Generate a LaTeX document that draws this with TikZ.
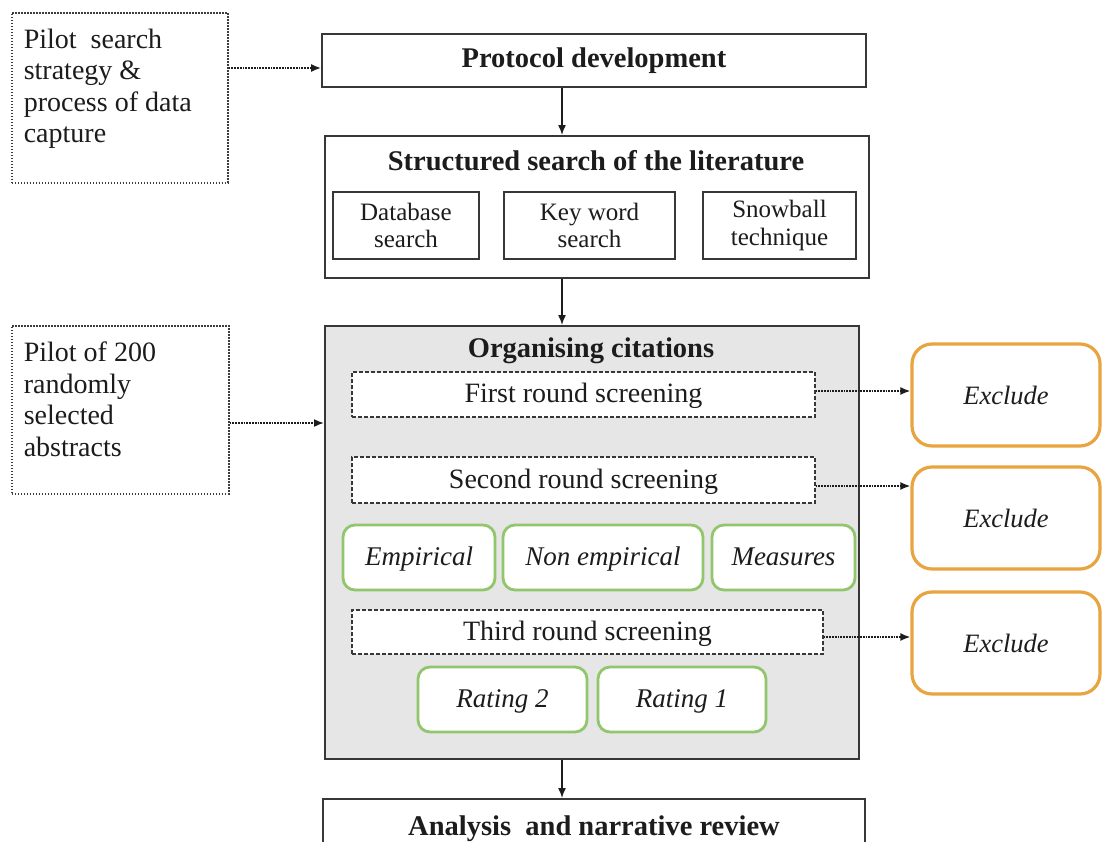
\documentclass[tikz,border=0pt]{standalone}
\usepackage{fontspec}
\setmainfont{Liberation Serif}
\usetikzlibrary{arrows.meta}
\definecolor{boxgray}{RGB}{230,230,230}
\definecolor{greenedge}{RGB}{146,198,108}
\definecolor{orangeedge}{RGB}{232,164,62}
\definecolor{inkc}{RGB}{28,28,28}
\definecolor{linec}{RGB}{55,55,55}
\definecolor{dotc}{RGB}{60,60,60}
\begin{document}
\begin{tikzpicture}[x=1pt,y=-1pt,
  every node/.style={text=inkc},
  bigfont/.style={font=\fontsize{28}{31.5}\selectfont},
  mainbox/.style={draw=linec, line width=1.8pt, fill=white, inner sep=0pt},
  graybox/.style={draw=linec, line width=1.8pt, fill=boxgray, inner sep=0pt},
  subbox/.style={draw=linec, line width=1.8pt, fill=white, inner sep=0pt, align=center, font=\fontsize{25}{27.5}\selectfont},
  screenbox/.style={draw=linec, line width=1.3pt, dash pattern=on 4pt off 2pt, fill=white, inner sep=0pt, text height=19pt, text depth=3pt, bigfont},
  pilotbox/.style={draw=dotc, line width=1.6pt, dash pattern=on 1.6pt off 1.4pt, fill=white, inner xsep=12pt, inner ysep=0pt, bigfont},
  greenbox/.style={draw=greenedge, line width=2.8pt, rounded corners=12pt, fill=white, inner sep=0pt, text height=19pt, text depth=4pt, font=\fontsize{27}{30}\itshape},
  orangebox/.style={draw=orangeedge, line width=3.2pt, rounded corners=20pt, fill=white, inner sep=0pt, font=\fontsize{26.5}{29}\itshape},
  titletext/.style={font=\fontsize{28.5}{31}\bfseries, inner sep=0pt},
  solidarrow/.style={draw=inkc, line width=1.5pt, -{Latex[length=10pt,width=8pt]}},
  dotarrow/.style={draw=inkc, line width=1.7pt, dash pattern=on 1.7pt off 1.1pt, -{Latex[length=10pt,width=8pt]}}
]
\useasboundingbox (0,0) rectangle (1103,841);
\clip (0,0) rectangle (1103,841);
\fill[white] (0,0) rectangle (1103,841);

% left pilot boxes
\node[pilotbox, anchor=north west] (pilot1) at (11,12)
  {\parbox[c][170pt][t]{192pt}{\vspace{16pt}Pilot\ \ search\\strategy \&\\process of data\\capture}};
\node[pilotbox, anchor=north west] (pilot2) at (11,325)
  {\parbox[c][168pt][t]{193pt}{\vspace{16pt}Pilot of 200\\randomly\\selected\\abstracts}};

% main column
\node[mainbox, minimum width=544pt, minimum height=53pt, titletext] (protocol) at (594,60.5) {Protocol development};

\node[mainbox, minimum width=544pt, minimum height=142pt, anchor=north west] (struct) at (324,135) {};
\node[titletext] (structT) at (596,161) {Structured search of the literature};
\node[subbox, minimum width=146pt, minimum height=67pt] (db) at (406,225.5) {Database\\search};
\node[subbox, minimum width=171pt, minimum height=67pt] (kw) at (589.5,225.5) {Key word\\search};
\node[subbox, minimum width=153pt, minimum height=67pt] (sb) at (779.5,225.5) {Snowball\\technique};

\node[graybox, minimum width=534pt, minimum height=433pt, anchor=north west] (gray) at (324,325) {};
\node[titletext] (orgT) at (591,351) {Organising citations};

\node[screenbox, minimum width=463pt, minimum height=45pt] (first) at (583.5,394.5) {First round screening};
\node[screenbox, minimum width=463pt, minimum height=46pt] (second) at (583.5,480) {Second round screening};
\node[greenbox, minimum width=152pt, minimum height=65pt] (emp) at (419,557.5) {Empirical};
\node[greenbox, minimum width=200pt, minimum height=65pt] (nonemp) at (603,557.5) {Non empirical};
\node[greenbox, minimum width=143pt, minimum height=65pt] (meas) at (783.5,557.5) {Measures};
\node[screenbox, minimum width=471pt, minimum height=44pt] (third) at (587.5,632) {Third round screening};
\node[greenbox, minimum width=169pt, minimum height=65pt] (rat2) at (502.5,699.5) {Rating 2};
\node[greenbox, minimum width=168pt, minimum height=65pt] (rat1) at (682,699.5) {Rating 1};

\node[mainbox, minimum width=542pt, minimum height=60pt, anchor=north, titletext] (analysis) at (594,798) {Analysis\ \ and narrative review};

% exclude boxes
\node[orangebox, minimum width=188pt, minimum height=102pt] (excl1) at (1006,395) {Exclude};
\node[orangebox, minimum width=188pt, minimum height=102pt] (excl2) at (1006,518) {Exclude};
\node[orangebox, minimum width=188pt, minimum height=102pt] (excl3) at (1006,643) {Exclude};

% helper coordinates
\coordinate (axis) at (562,0);
\coordinate (p1y) at (0,68);
\coordinate (p2y) at (0,423);
\coordinate (e1y) at (0,391);
\coordinate (e2y) at (0,486);
\coordinate (e3y) at (0,637);

% connectors
\draw[solidarrow] (protocol.south -| axis) -- (struct.north -| axis);
\draw[solidarrow] (struct.south -| axis) -- (gray.north -| axis);
\draw[solidarrow] (gray.south -| axis) -- (analysis.north -| axis);

\draw[dotarrow] (pilot1.east |- p1y) -- (protocol.west |- p1y);
\draw[dotarrow] (pilot2.east |- p2y) -- (gray.west |- p2y);
\draw[dotarrow] (first.east |- e1y) -- (excl1.west |- e1y);
\draw[dotarrow] (second.east |- e2y) -- (excl2.west |- e2y);
\draw[dotarrow] (third.east |- e3y) -- (excl3.west |- e3y);
\end{tikzpicture}
\end{document}
